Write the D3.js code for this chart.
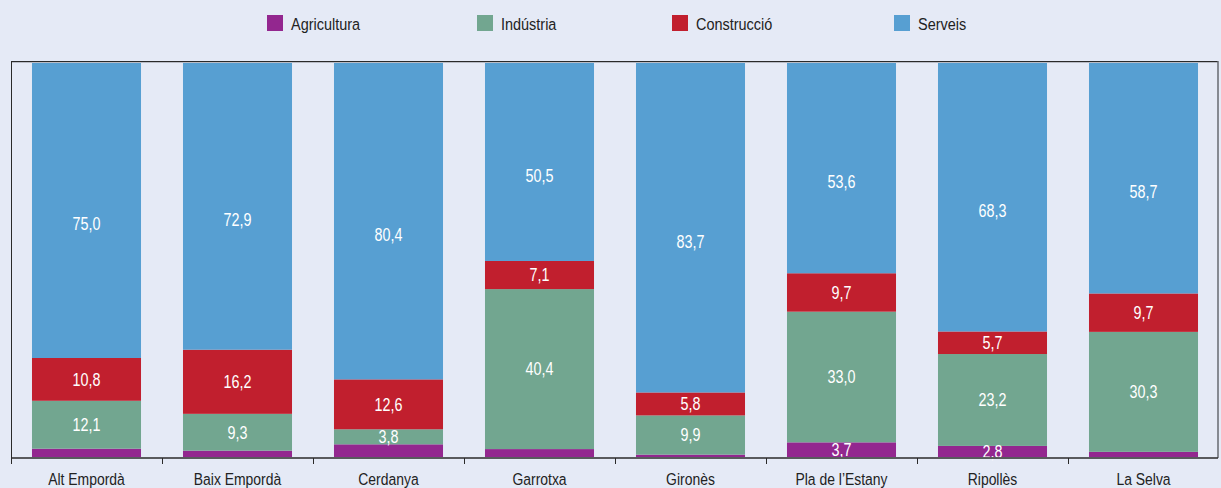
<!DOCTYPE html>
<html>
<head>
<meta charset="utf-8">
<script src="https://cdn.jsdelivr.net/npm/d3@7"></script>
<style>
  html, body { margin: 0; padding: 0; background: #e5eaf6; }
  svg { display: block; }
  text { font-family: "Liberation Sans", Arial, sans-serif; }
</style>
</head>
<body>
<svg id="chart" width="1221" height="488"></svg>
<script>
const categories = ["Alt Empordà", "Baix Empordà", "Cerdanya", "Garrotxa", "Gironès", "Pla de l’Estany", "Ripollès", "La Selva"];
const seriesNames = ["Agricultura", "Indústria", "Construcció", "Serveis"];
const agricultura = [2.1, 1.6, 3.2, 2.0, 0.6, 3.7, 2.8, 1.3];
const industria   = [12.1, 9.3, 3.8, 40.4, 9.9, 33.0, 23.2, 30.3];
const construccio = [10.8, 16.2, 12.6, 7.1, 5.8, 9.7, 5.7, 9.7];
const serveis     = [75.0, 72.9, 80.4, 50.5, 83.7, 53.6, 68.3, 58.7];
const agriculturaLabelShown = [false, false, false, false, false, true, true, false];
const colors = ["#93278f", "#72a690", "#c11f2e", "#579fd2"];

const svg = d3.select("#chart");
const plotLeft = 11, plotRight = 1219, plotTop = 61, plotBottom = 457;
const condense = 0.82;            // horizontal squeeze imitating a condensed typeface
const serveisLabelShift = 14.5;   // services labels sit a bit below centre in the original

const x = d3.scaleBand().domain(categories).range([plotLeft, plotRight]).paddingInner(0.278).paddingOuter(0.139);
const y = d3.scaleLinear().domain([0, 100]).range([plotBottom, plotTop]);

const rows = categories.map((c, i) => ({
  cat: c,
  Agricultura: agricultura[i],
  "Indústria": industria[i],
  "Construcció": construccio[i],
  Serveis: serveis[i],
  showAgri: agriculturaLabelShown[i]
}));
const stack = d3.stack().keys(seriesNames)(rows);

const fmt = v => v.toFixed(1).replace(".", ",");

// bars
stack.forEach((layer, li) => {
  const g = svg.append("g").attr("fill", colors[li]);
  g.selectAll("rect").data(layer).join("rect")
    .attr("x", d => x(d.data.cat))
    .attr("width", x.bandwidth())
    .attr("y", d => y(d[1]))
    .attr("height", d => y(d[0]) - y(d[1]));
});
stack.forEach((layer, li) => {
  const shift = li === 3 ? serveisLabelShift : 0;
  svg.append("g").selectAll("text").data(layer.filter(d => li > 0 || d.data.showAgri)).join("text")
    .attr("transform", d => `translate(${x(d.data.cat) + x.bandwidth() / 2},${(y(d[0]) + y(d[1])) / 2 + shift}) scale(${condense},1)`)
    .attr("dy", "0.36em")
    .attr("text-anchor", "middle")
    .attr("fill", "#ffffff")
    .attr("font-size", 17.5)
    .text(d => fmt(d[1] - d[0]));
});

// frame
const frame = svg.append("g");
frame.append("line").attr("x1", plotLeft).attr("x2", plotRight - 1).attr("y1", plotTop + 1.5).attr("y2", plotTop + 1.5).attr("stroke", "#b9bcc6").attr("stroke-width", 1);
frame.append("line").attr("x1", plotLeft).attr("x2", plotRight - 1).attr("y1", plotTop + 0.5).attr("y2", plotTop + 0.5).attr("stroke", "#2a2a2a").attr("stroke-width", 1);
frame.append("line").attr("x1", plotRight - 1).attr("x2", plotRight - 1).attr("y1", plotTop).attr("y2", plotBottom + 1).attr("stroke", "#666a70").attr("stroke-width", 1.5);
frame.append("line").attr("x1", plotLeft + 0.5).attr("x2", plotLeft + 0.5).attr("y1", plotTop).attr("y2", plotBottom + 1).attr("stroke", "#2a2a2a").attr("stroke-width", 1);

// x axis
const axisG = svg.append("g");
axisG.append("line").attr("x1", plotLeft).attr("x2", plotRight - 1).attr("y1", plotBottom + 1).attr("y2", plotBottom + 1).attr("stroke", "#2a2a2a").attr("stroke-width", 1.5);
const step = x.step();
const tickXs = categories.map(c => x(c) - x.paddingInner() * step / 2);
axisG.selectAll("line.tick").data(tickXs).join("line").attr("class", "tick")
  .attr("x1", d => Math.round(d) + 0.5).attr("x2", d => Math.round(d) + 0.5)
  .attr("y1", plotBottom + 1).attr("y2", plotBottom + 7)
  .attr("stroke", "#2a2a2a").attr("stroke-width", 1);
axisG.selectAll("text").data(categories).join("text")
  .attr("transform", d => `translate(${x(d) + x.bandwidth() / 2},485) scale(${condense},1)`)
  .attr("text-anchor", "middle")
  .attr("fill", "#222")
  .attr("font-size", 17)
  .text(d => d);

// legend
const legendX = [267, 477, 672, 894];
const legend = svg.append("g");
seriesNames.forEach((s, i) => {
  legend.append("rect").attr("x", legendX[i]).attr("y", 15).attr("width", 16).attr("height", 16).attr("fill", colors[i]);
  legend.append("text").attr("transform", `translate(${legendX[i] + 24},29.5) scale(${condense + 0.03},1)`)
    .attr("fill", "#222").attr("font-size", 17).text(s);
});
</script>
</body>
</html>
